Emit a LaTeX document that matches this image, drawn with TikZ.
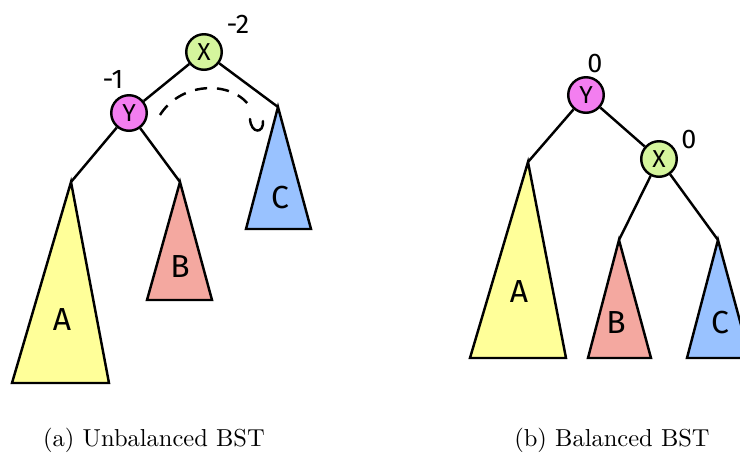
\documentclass[tikz,border=0pt]{standalone}
\usepackage{fontspec}
\setsansfont{Fira Sans}
\definecolor{xgreen}{HTML}{D5F59D}
\definecolor{ypink}{HTML}{F37EF0}
\definecolor{ayellow}{HTML}{FFFF99}
\definecolor{bsalmon}{HTML}{F4A8A0}
\definecolor{cblue}{HTML}{99C2FF}
\begin{document}
\begin{tikzpicture}[x=0.408pt,y=-0.408pt,
  treenode/.style={circle,draw,line width=1pt,minimum size=14.5pt,inner sep=0pt,font=\sffamily\fontsize{10}{10}\selectfont},
  subtree/.style={draw,line width=1pt,line join=miter},
  edge/.style={line width=1pt},
  tlabel/.style={font=\sffamily\fontsize{13}{14}\selectfont},
  bal/.style={font=\sffamily\fontsize{11}{12}\selectfont},
  captext/.style={font=\fontsize{10}{12}\selectfont}]
\useasboundingbox (0,0) rectangle (740,455);
\clip (0,0) rectangle (740,455);
% ---------- (a) unbalanced ----------
\coordinate (aA) at (71,182);
\coordinate (aB) at (180,182);
\coordinate (aC) at (278,107);
\filldraw[subtree,fill=ayellow] (aA) -- (109,383) -- (12,383) -- cycle;
\filldraw[subtree,fill=bsalmon] (aB) -- (212,300) -- (147,300) -- cycle;
\filldraw[subtree,fill=cblue] (aC) -- (311,229) -- (246,229) -- cycle;
\node[tlabel] (lA) at (62,320) {A};
\node[tlabel] (lB) at (180,267) {B};
\node[tlabel] (lC) at (280,198) {C};
\node[treenode,fill=xgreen] (X) at (204,52) {X};
\node[treenode,fill=ypink] (Y) at (129,113) {Y};
\draw[edge] (X) -- (Y);
\draw[edge] (X) -- (aC);
\draw[edge] (Y) -- (aA);
\draw[edge] (Y) -- (aB);
\node[bal] (bx) at (238,24) {-2};
\node[bal] (by) at (113,79) {-1};
\coordinate (d1) at (160,115);
\coordinate (d2) at (252,110);
\draw[line width=1pt,dash pattern=on 5pt off 4pt] (d1) .. controls (182,80) and (236,80) .. (d2);
\coordinate (h1) at (250,119);
\coordinate (h2) at (263,121);
\draw[line width=1pt,line cap=round] (h1) .. controls (251,134) and (264,134) .. (h2);
% ---------- (b) balanced ----------
\coordinate (bA) at (528,162);
\coordinate (bB) at (619,240);
\coordinate (bC) at (718,240);
\filldraw[subtree,fill=ayellow] (bA) -- (566,358) -- (470,358) -- cycle;
\filldraw[subtree,fill=bsalmon] (bB) -- (651,358) -- (588,358) -- cycle;
\filldraw[subtree,fill=cblue] (bC) -- (750,358) -- (687,358) -- cycle;
\node[tlabel] (mA) at (519,292) {A};
\node[tlabel] (mB) at (616,323) {B};
\node[tlabel] (mC) at (720,323) {C};
\node[treenode,fill=ypink] (Y2) at (586,95) {Y};
\node[treenode,fill=xgreen] (X2) at (659,159) {X};
\draw[edge] (Y2) -- (X2);
\draw[edge] (Y2) -- (bA);
\draw[edge] (X2) -- (bB);
\draw[edge] (X2) -- (bC);
\node[bal] (b0y) at (595,64) {0};
\node[bal] (b0x) at (689,140) {0};
% ---------- captions ----------
\node[captext] (capa) at (154,440) {(a) Unbalanced BST};
\node[captext] (capb) at (612,440) {(b) Balanced BST};
\end{tikzpicture}
\end{document}
